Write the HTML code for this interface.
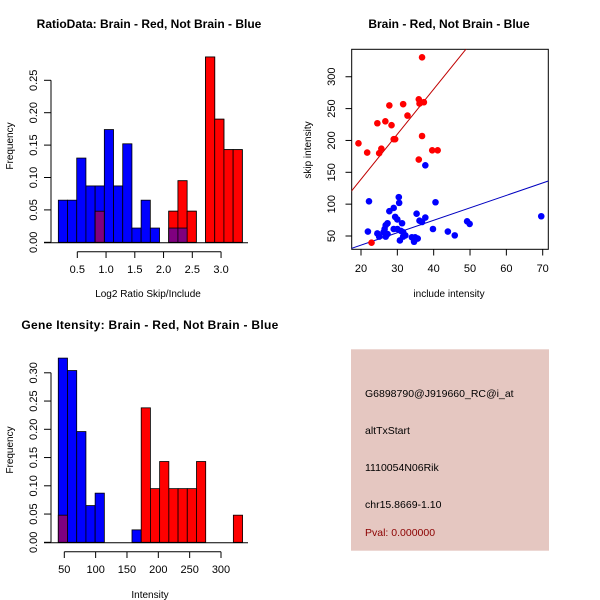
<!DOCTYPE html>
<html><head><meta charset="utf-8"><style>
body{margin:0;background:#fff;}
svg{display:block;font-family:"Liberation Sans",sans-serif;}
</style></head><body>
<svg id="s" width="600" height="600" viewBox="0 0 600 600">
<rect width="600" height="600" fill="#fff"/>
</svg>
<script>
// Plot 1: ratio histogram
const h1Start = 0.17, h1Width = 0.16;
const h1Blue = [0.065,0.065,0.13,0.087,0.087,0.174,0.087,0.152,0.022,0.065,0.022];
const h1RedBins = [4,12,13,14,16,17,18,19];
const h1Red = [0.048,0.048,0.095,0.048,0.286,0.19,0.143,0.143];
const h1XTicks = [0.5,1.0,1.5,2.0,2.5,3.0];
const h1XLabels = ["0.5","1.0","1.5","2.0","2.5","3.0"];
const h1YTicks = [0,0.05,0.10,0.15,0.20,0.25];
const h1YLabels = ["0.00","0.05","0.10","0.15","0.20","0.25"];
// Plot 2: scatter
const redX = [19.3,21.7,24.5,25,25.6,26.7,27.8,28.4,29,29.4,31.6,32.8,36.8,35.9,36.1,37.3,36.8,35.9,39.6,41.1,22.9];
const redY = [195.5,181,227,180,187,230,255,224,202,202,257,239,330.5,264.6,258,260,207,170,184.5,184.5,39.5];
const blueX = [22.2,21.9,24.5,25,26.2,26.5,26.8,27.3,26.8,27.3,27.8,29,29.4,30,29,30,30.4,30.5,31.3,31,31.6,32.2,30.7,31.6,34,34.6,34.9,35.6,35.3,36.1,36.8,37.7,37.7,40.5,39.8,43.9,45.8,49.2,49.9,69.6];
const blueY = [104.5,57,54,49,56,61,67,70,49,53,89,94,80,76,61,61,111,102,70,58,56,51,43,49,48,41,48,46,85,74,72,79,161,103,61,57,51,73,69,81];
const redFit = [-2.3, 7.07];
const blueFit = [-3.4, 1.953];
const p2XTicks = [20,30,40,50,60,70];
const p2YTicks = [50,100,150,200,250,300];
// Plot 3: intensity histogram
const h3Start = 40.4, h3Width = 14.7;
const h3BlueBins = [0,1,2,3,4,8];
const h3Blue = [0.326,0.304,0.196,0.065,0.087,0.022];
const h3RedBins = [0,9,10,11,12,13,14,15,19];
const h3Red = [0.048,0.238,0.095,0.143,0.095,0.095,0.095,0.143,0.048];
const h3XTicks = [50,100,150,200,250,300];
const h3YTicks = [0,0.05,0.10,0.15,0.20,0.25,0.30];
const h3YLabels = ["0.00","0.05","0.10","0.15","0.20","0.25","0.30"];

const NS="http://www.w3.org/2000/svg", S=document.getElementById('s');
function mk(tag, attrs, parent){const e=document.createElementNS(NS,tag);for(const k in attrs)e.setAttribute(k,attrs[k]);(parent||S).appendChild(e);return e;}
function txt(x,y,t,size,opts){const e=mk('text',Object.assign({x:x,y:y,'font-size':size,'text-anchor':'middle',fill:'#000'},opts||{}));e.textContent=t;return e;}

// ---- Plot 1
const x1 = v => 77.3 + (v-0.5)*57.5;
const y1 = v => 242.3 - v*648;
const g1 = mk('g',{});


h1Blue.forEach((v,i)=>{const r=mk('rect',{x:x1(h1Start+i*h1Width),y:y1(v),width:x1(h1Start+(i+1)*h1Width)-x1(h1Start+i*h1Width),height:y1(0)-y1(v),fill:'#0000ff',stroke:'#000','stroke-width':0.8},g1);

});
h1Red.forEach((v,i)=>{const b=h1RedBins[i];const r=mk('rect',{x:x1(h1Start+b*h1Width),y:y1(v),width:x1(h1Start+(b+1)*h1Width)-x1(h1Start+b*h1Width),height:y1(0)-y1(v),fill:'rgba(255,0,0,0.5)',stroke:'#000','stroke-width':0.8},g1);

});
h1Red.forEach((v,i)=>{const b=h1RedBins[i];if(b<h1Blue.length)return;const r=mk('rect',{x:x1(h1Start+b*h1Width),y:y1(v),width:x1(h1Start+(b+1)*h1Width)-x1(h1Start+b*h1Width),height:y1(0)-y1(v),fill:'#ff0000',stroke:'#000','stroke-width':0.8},g1);

});
const ov1Bins=[12,13], ov1=[0.022,0.022];
ov1.forEach((v,i)=>{const b=ov1Bins[i];const r=mk('rect',{x:x1(h1Start+b*h1Width),y:y1(v),width:x1(h1Start+(b+1)*h1Width)-x1(h1Start+b*h1Width),height:y1(0)-y1(v),fill:'#7f007f',stroke:'#000','stroke-width':0.8},g1);

});
mk('line',{x1:44,y1:242.7,x2:248,y2:242.7,stroke:'#000'});
mk('line',{x1:x1(0.5),y1:251.7,x2:x1(3.0),y2:251.7,stroke:'#000'});
h1XTicks.forEach((v,i)=>{mk('line',{x1:x1(v),y1:251.7,x2:x1(v),y2:258,stroke:'#000'});txt(x1(v),273,h1XLabels[i],11);});
mk('line',{x1:51,y1:y1(0),x2:51,y2:y1(0.25),stroke:'#000'});
h1YTicks.forEach((v,i)=>{mk('line',{x1:44,y1:y1(v),x2:51,y2:y1(v),stroke:'#000'});txt(0,0,h1YLabels[i],11,{transform:`translate(37,${y1(v)}) rotate(-90)`});});
txt(0,0,'Frequency',10,{transform:'translate(13,146) rotate(-90)',});
txt(148,297,'Log2 Ratio Skip/Include',10,{});
txt(149,28,'RatioData: Brain - Red, Not Brain - Blue',12,{'font-weight':'bold',});

// ---- Plot 2
const x2 = v => 361 + (v-20)*3.634;
const y2 = v => 236 - (v-50)*0.637;
mk('rect',{x:351.7,y:49.3,width:196.6,height:200,fill:'none',stroke:'#000',});
const cp=mk('clipPath',{id:'c2'});mk('rect',{x:351.7,y:49.3,width:196.6,height:200},cp);
const g2=mk('g',{'clip-path':'url(#c2)'});


[[redFit,'#c00000','red-fit-line'],[blueFit,'#0000c0','blue-fit-line']].forEach(([f,c,n])=>{const l=mk('line',{x1:x2(15),y1:y2(f[0]+f[1]*15),x2:x2(75),y2:y2(f[0]+f[1]*75),stroke:c,'stroke-width':1},g2);

});
redX.forEach((v,i)=>{const c=mk('circle',{cx:x2(v),cy:y2(redY[i]),r:3.3,fill:'#ff0000'},g2);

});
blueX.forEach((v,i)=>{const c=mk('circle',{cx:x2(v),cy:y2(blueY[i]),r:3.3,fill:'#0000ff'},g2);

});
p2XTicks.forEach(v=>{mk('line',{x1:x2(v),y1:249.3,x2:x2(v),y2:255.5,stroke:'#000'});txt(x2(v),272,String(v),11);});
p2YTicks.forEach(v=>{mk('line',{x1:345.5,y1:y2(v),x2:351.7,y2:y2(v),stroke:'#000'});txt(0,0,String(v),11,{transform:`translate(335,${y2(v)}) rotate(-90)`});});
txt(449,297,'include intensity',10,{});
txt(0,0,'skip intensity',10,{transform:'translate(311,150) rotate(-90)',});
txt(449,28,'Brain - Red, Not Brain - Blue',12,{'font-weight':'bold',});

// ---- Plot 3
const x3 = v => 64.3 + (v-50)*0.6268;
const y3 = v => 542.3 - v*565;
const g3=mk('g',{});


h3Blue.forEach((v,i)=>{const b=h3BlueBins[i];const r=mk('rect',{x:x3(h3Start+b*h3Width),y:y3(v),width:x3(h3Start+(b+1)*h3Width)-x3(h3Start+b*h3Width),height:y3(0)-y3(v),fill:'#0000ff',stroke:'#000','stroke-width':0.8},g3);

});
h3Red.forEach((v,i)=>{const b=h3RedBins[i];const ov=h3BlueBins.indexOf(b)>=0;const r=mk('rect',{x:x3(h3Start+b*h3Width),y:y3(v),width:x3(h3Start+(b+1)*h3Width)-x3(h3Start+b*h3Width),height:y3(0)-y3(v),fill:ov?'#7f007f':'#ff0000',stroke:'#000','stroke-width':0.8},g3);

});
mk('line',{x1:44,y1:542.7,x2:248,y2:542.7,stroke:'#000'});
mk('line',{x1:x3(50),y1:551.7,x2:x3(300),y2:551.7,stroke:'#000'});
h3XTicks.forEach(v=>{mk('line',{x1:x3(v),y1:551.7,x2:x3(v),y2:558,stroke:'#000'});txt(x3(v),573,String(v),11);});
mk('line',{x1:51,y1:y3(0),x2:51,y2:y3(0.3),stroke:'#000'});
h3YTicks.forEach((v,i)=>{mk('line',{x1:44,y1:y3(v),x2:51,y2:y3(v),stroke:'#000'});txt(0,0,h3YLabels[i],11,{transform:`translate(37,${y3(v)}) rotate(-90)`});});
txt(0,0,'Frequency',10,{transform:'translate(13,450) rotate(-90)',});
txt(150,598,'Intensity',10,{});
txt(150,329,'Gene Itensity: Brain - Red, Not Brain - Blue',12,{'font-weight':'bold','letter-spacing':'0.3',});

// ---- Info box
mk('rect',{x:351,y:349.3,width:198,height:201.4,fill:'#e5c7c1',});
const info=[['G6898790@J919660_RC@i_at',397,'#000','probe-id'],['altTxStart',434,'#000','event-type'],['1110054N06Rik',471,'#000','gene-name'],['chr15.8669-1.10',508,'#000','location'],['Pval: 0.000000',536,'#8b0000','p-value']];
info.forEach(([t,y,c,n])=>{txt(365,y,t,10.5,{'text-anchor':'start',fill:c,});});
</script>
</body></html>
